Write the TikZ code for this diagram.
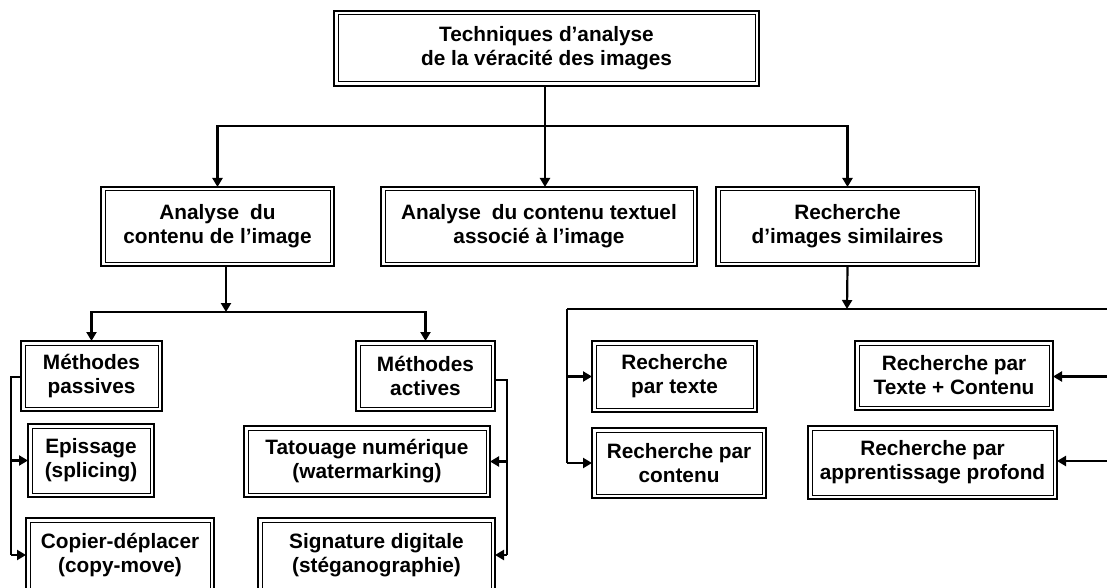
\documentclass[tikz,border=0pt]{standalone}
\usepackage{fontspec}
\setmainfont{Liberation Sans}
\usetikzlibrary{arrows.meta}
\begin{document}
\begin{tikzpicture}[x=0.5pt,y=-0.5pt,
  box/.style={draw, line width=1.4pt, fill=white, inner sep=0pt, outer sep=0pt, align=center,
    font=\bfseries\fontsize{10.4}{12}\selectfont,
    path picture={\draw[line width=0.5pt]
      ([shift={(2pt,-2pt)}]path picture bounding box.north west) rectangle
      ([shift={(-2pt,2pt)}]path picture bounding box.south east);}},
  sz/.style 2 args={minimum width=#1*0.5pt, minimum height=#2*0.5pt},
  conn/.style={line width=1.1pt},
  arr/.style={conn, -{Triangle[length=4.5pt,width=5pt]}}
]
\useasboundingbox (0,0) rectangle (1107,588);

% nodes
\node[box, sz={425}{75}] (top) at (546.5,48.5) {Techniques d’analyse\\de la véracité des images};
\node[box, sz={233}{79}] (A) at (217.5,226.5) {Analyse\hspace{0.25em} du\\contenu de l’image};
\node[box, sz={316}{79}] (B) at (539,226.5) {Analyse\hspace{0.25em} du contenu textuel\\associé à l’image};
\node[box, sz={263}{79}] (C) at (847.5,226.5) {Recherche\\d’images similaires};

\node[box, sz={141}{70}] (MP) at (91.5,376) {Méthodes\\passives};
\node[box, sz={139}{70}] (MA) at (425.5,376) {Méthodes\\actives};
\node[box, sz={126}{73}] (Ep) at (91,460.5) {Epissage\\(splicing)};
\node[box, sz={188}{74}] (Cp) at (120,555) {Copier-déplacer\\(copy-move)};
\node[box, sz={246}{71}] (Ta) at (367,461.5) {Tatouage numérique\\(watermarking)};
\node[box, sz={237}{74}] (Sg) at (376.5,555) {Signature digitale\\(stéganographie)};

\node[box, sz={165}{71}] (RT) at (674.5,376.5) {Recherche\\par texte};
\node[box, sz={174}{70}] (RC) at (679,463) {Recherche par\\contenu};
\node[box, sz={198}{69}] (RTC) at (954,375.5) {Recherche par\\Texte + Contenu};
\node[box, sz={249}{73}] (RA) at (932.5,462.5) {Recherche par\\apprentissage profond};

% level 1 -> level 2
\coordinate (j1) at (545,126);
\draw[conn] (top.south -| j1) -- (j1);
\draw[arr] (j1) -| (A.north);
\draw[arr] (j1) -- (j1 |- B.north);
\draw[arr] (j1) -| (C.north);

% A -> methods
\coordinate (j2) at (226,312);
\draw[arr] (A.south -| j2) -- (j2);
\draw[arr] (j2) -| (MP.north);
\draw[arr] (j2) -| (MA.north);

% passive
\coordinate (l1) at (11,555);
\draw[conn] ([yshift=-0.5pt]MP.west) -| (l1);
\draw[arr] (l1) -- (Cp.west);
\draw[arr] (Ep.west -| l1) -- (Ep.west);

% active
\coordinate (r1) at (507,555);
\draw[conn] ([yshift=-2pt]MA.east) -| (r1);
\draw[arr] (r1) -- (Sg.east);
\draw[arr] (Ta.east -| r1) -- (Ta.east);

% C -> search
\coordinate (j3) at (847,309);
\coordinate (l3) at (567,309);
\coordinate (e3) at (1107,309);
\draw[arr] (C.south) -- (j3);
\draw[conn] (l3) -- (e3);
\coordinate (l4) at (567,463);
\draw[conn] (l3) -- (l4);
\draw[arr] (l4) -- (RC.west);
\draw[arr] (RT.west -| l3) -- (RT.west);

% right side feeds (from beyond the edge)
\coordinate (e4) at (1107,376.5);
\coordinate (e5) at (1107,461);
\draw[arr] (e4) -- (RTC.east |- e4);
\draw[arr] (e5) -- (RA.east |- e5);
\end{tikzpicture}
\end{document}
